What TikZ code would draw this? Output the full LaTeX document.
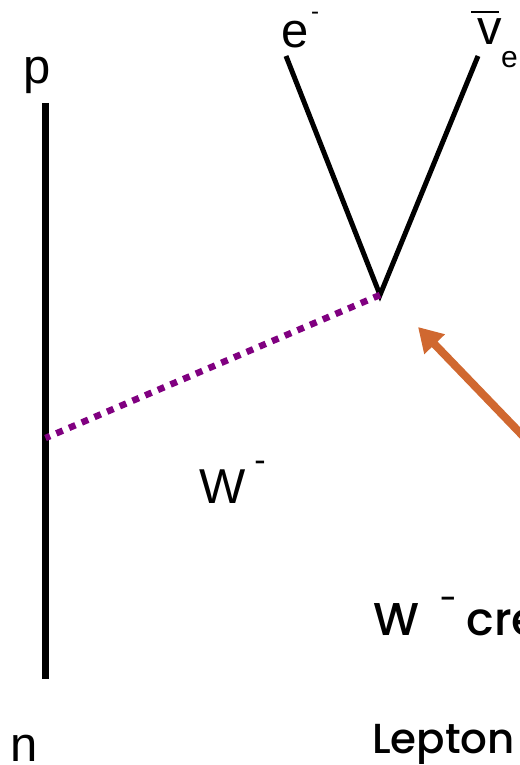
\documentclass[tikz,border=0pt]{standalone}
\usepackage{fontspec}
\setmainfont{Liberation Sans}
\IfFontExistsTF{Poppins Medium}{\newfontfamily\geo{Poppins Medium}}{\IfFontExistsTF{Poppins SemiBold}{\newfontfamily\geo{Poppins SemiBold}}{\newfontfamily\geo{Poppins}}}
\usetikzlibrary{arrows.meta}
\definecolor{wpurple}{RGB}{128,0,128}
\definecolor{arrorange}{RGB}{208,104,48}
\tikzset{
  lbl/.style={font=\fontsize{49}{55}\selectfont, inner sep=0pt, anchor=base},
  supm/.style={font=\fontsize{24}{28}\selectfont, inner sep=0pt, anchor=center},
  particle/.style={line width=5pt, black},
  nucleon/.style={line width=7.6pt, black},
  boson/.style={line width=6.5pt, wpurple, dash pattern=on 7pt off 6.8pt},
  pointer/.style={line width=8pt, arrorange, -{Triangle[length=24pt,width=27pt]}},
  caption/.style={font=\geo\fontsize{46}{52}\selectfont, inner sep=0pt, anchor=base west}
}
\begin{document}
\begin{tikzpicture}[x=1pt,y=-1pt]
\useasboundingbox (0,0) rectangle (519,765);
% nucleon line
\coordinate (ptop) at (45.5,103);
\coordinate (nbot) at (45.5,679);
\coordinate (wq) at (45.5,438);
\draw[nucleon] (ptop) -- (nbot);
\node[lbl] (p) at (37.5,84) {p};
\node[lbl] (n) at (24,761) {n};
% lepton vertex
\coordinate (vtx) at (380,295);
\coordinate (eend) at (286,56);
\coordinate (nuend) at (478,56);
\draw[particle] (eend) -- (vtx) -- (nuend);
\draw[boson] (vtx) -- (wq);
% labels
\node[lbl] (e) at (295,48) {e};
\node[supm] (em) at (315,16) {-};
\node[lbl] (nu) at (489.5,45) {v};
\coordinate (barL) at (471,12);
\coordinate (barR) at (499,12);
\draw[line width=2.6pt] (barL) -- (barR);
\node[font=\fontsize{30}{34}\selectfont, inner sep=0pt, anchor=base west] (nue) at (501,68) {e};
\node[lbl] (W) at (222.5,503) {W};
\node[font=\fontsize{34}{38}\selectfont, inner sep=0pt, anchor=center] (Wm) at (260,466) {-};
% pointer arrow
\coordinate (arrS) at (524,437);
\coordinate (arrT) at (418,327);
\draw[pointer] (arrS) -- (arrT);
% captions
\node[caption] (cap1) at (373,635) {W\hspace{20pt}\raisebox{26pt}{\fontsize{30}{34}\selectfont -}\hspace{10pt}cre};
\node[caption, font=\geo\fontsize{42}{48}\selectfont] (cap2) at (372,753) {Lepton};
\end{tikzpicture}
\end{document}
